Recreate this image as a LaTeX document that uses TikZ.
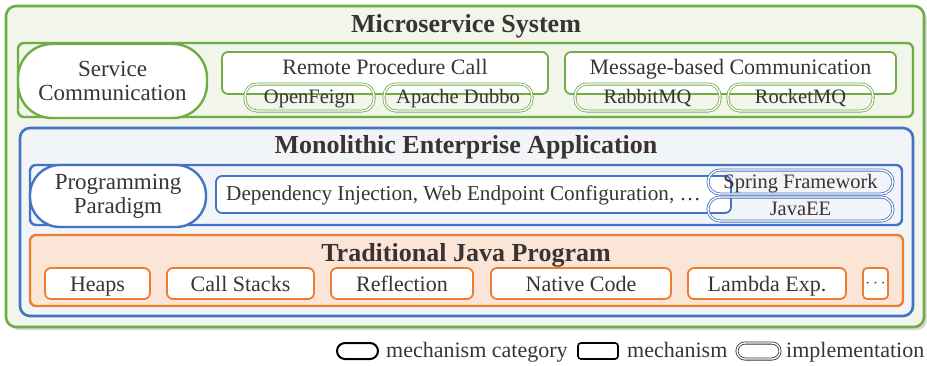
\documentclass[tikz,border=0pt]{standalone}
\usepackage{fontspec}
\setmainfont{Liberation Serif}
\usetikzlibrary{shadows}
\definecolor{gr}{HTML}{70AD47}
\definecolor{bl}{HTML}{4472C4}
\definecolor{org}{HTML}{ED7D31}
\definecolor{grfill}{HTML}{F1F5EA}
\definecolor{blfill}{HTML}{F2F5F7}
\definecolor{orfill}{HTML}{FBE5D6}
\definecolor{tc}{HTML}{3B3333}
\tikzset{
  txt/.style={font=\fontsize{22}{24}\selectfont, text=tc, inner sep=0pt, align=center},
  ttl/.style={font=\bfseries\fontsize{26}{28}\selectfont, text=tc, inner sep=0pt, anchor=base},
  outerbox/.style={draw=#1, line width=2.6pt, rounded corners=10pt, inner sep=0pt, outer sep=0pt},
  rowbox/.style={draw=#1, line width=2.4pt, rounded corners=6pt, inner sep=0pt, outer sep=0pt},
  catbox/.style={draw=#1, fill=white, line width=2.4pt, rounded corners=30pt, inner sep=0pt, outer sep=0pt, txt, font=\fontsize{23}{24}\selectfont},
  mechbox/.style={draw=#1, fill=white, line width=1.8pt, rounded corners=6pt, inner sep=0pt, outer sep=0pt, txt, text height=15pt, text depth=0pt},
  implbox/.style={draw=#1, double=white, double distance=1.4pt, line width=0.8pt, rounded corners=12pt, inner sep=0pt, outer sep=0pt, txt, font=\fontsize{20.5}{22}\selectfont, text height=12pt, text depth=0pt},
  lgtext/.style={txt, anchor=base west},
}
\begin{document}
\begin{tikzpicture}[x=1pt,y=-1pt]
\useasboundingbox (0,0) rectangle (927,365);
% outer microservice box
\node[outerbox=gr, fill=grfill, minimum width=918, minimum height=321,
  drop shadow={opacity=0.3, shadow xshift=3pt, shadow yshift=-3pt}] (ms) at (465,166.5) {};
\node[ttl] (mstitle) at (466,32) {Microservice System};
% service communication row
\node[rowbox=gr, minimum width=895, minimum height=74] (msrow) at (465.5,80) {};
\node[catbox=gr, minimum width=189, minimum height=74, rounded corners=34pt] (sc) at (112.5,81) {Service\\Communication};
\node[mechbox=gr, minimum width=326, minimum height=42] (rpc) at (385,73) {};
\node[txt, anchor=base] (rpct) at (385,74) {Remote Procedure Call};
\node[implbox=gr, minimum width=129, minimum height=27] (feign) at (309.5,97.5) {OpenFeign};
\node[implbox=gr, minimum width=148, minimum height=27] (dubbo) at (458,97.5) {Apache Dubbo};
\node[mechbox=gr, minimum width=331, minimum height=42] (mbc) at (730.5,73) {};
\node[txt, anchor=base] (mbct) at (730.5,74) {Message-based Communication};
\node[implbox=gr, minimum width=145, minimum height=27] (rabbit) at (647.5,97.5) {RabbitMQ};
\node[implbox=gr, minimum width=145, minimum height=27] (rocket) at (800.5,97.5) {RocketMQ};
% monolithic box
\node[outerbox=bl, fill=blfill, minimum width=893, minimum height=188] (mono) at (466.5,222) {};
\node[ttl] (monotitle) at (466,153) {Monolithic Enterprise Application};
\node[rowbox=bl, minimum width=872, minimum height=60] (monorow) at (466,195) {};
\node[catbox=bl, minimum width=176, minimum height=62] (pp) at (118,196) {Programming\\Paradigm};
\node[mechbox=bl, minimum width=515, minimum height=37] (di) at (473.5,194.5) {};
\node[txt, anchor=base west, font=\fontsize{21.2}{23}\selectfont] (dit) at (226,200) {Dependency Injection, Web Endpoint Configuration, \dots};
\node[implbox=bl, minimum width=185, minimum height=24] (spring) at (800.5,182) {Spring Framework};
\node[implbox=bl, minimum width=185, minimum height=24] (javaee) at (800.5,209) {JavaEE};
% traditional java box
\node[rowbox=org, fill=orfill, minimum width=873, minimum height=71] (tj) at (466.5,270.5) {};
\node[ttl] (tjtitle) at (466,261) {Traditional Java Program};
\node[mechbox=org, minimum width=105, minimum height=31] (heaps) at (97.5,283.5) {Heaps};
\node[mechbox=org, minimum width=147, minimum height=31] (stacks) at (240.5,283.5) {Call Stacks};
\node[mechbox=org, minimum width=142, minimum height=31] (refl) at (402,283.5) {Reflection};
\node[mechbox=org, minimum width=180, minimum height=31] (native) at (581,283.5) {Native Code};
\node[mechbox=org, minimum width=158, minimum height=31] (lambda) at (767,283.5) {Lambda Exp.};
\node[draw=org, fill=white, line width=1.8pt, rounded corners=4pt, inner sep=0pt, minimum width=25, minimum height=31, text=tc, font=\fontsize{18}{20}\selectfont] (more) at (875.5,283.5) {$\cdots$};
% legend
\node[draw=black, line width=2pt, rounded corners=8pt, minimum width=41, minimum height=16, inner sep=0pt] (lgcat) at (357.5,351) {};
\node[lgtext] (lgcatt) at (386,357) {mechanism category};
\node[draw=black, line width=1.6pt, rounded corners=3pt, minimum width=40, minimum height=16, inner sep=0pt] (lgmech) at (598,351) {};
\node[lgtext] (lgmecht) at (627,357) {mechanism};
\node[draw=black!80, double=white, double distance=1.4pt, line width=0.8pt, rounded corners=8pt, minimum width=43, minimum height=16, inner sep=0pt] (lgimpl) at (758.5,351) {};
\node[lgtext] (lgimplt) at (786,357) {implementation};
\end{tikzpicture}
\end{document}
